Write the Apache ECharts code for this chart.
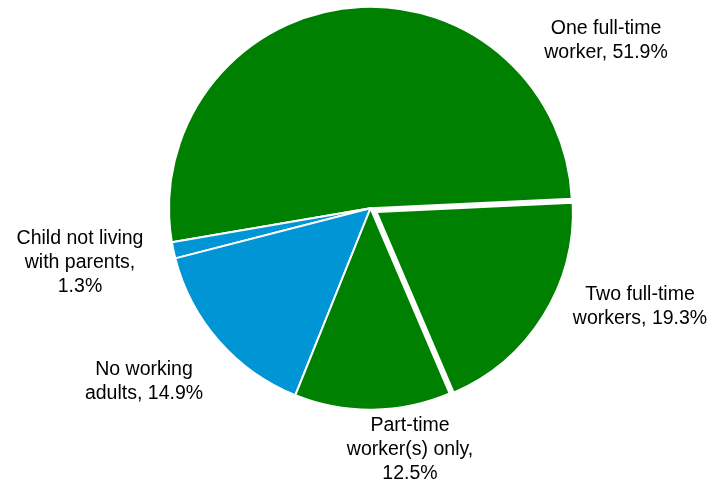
<!DOCTYPE html>
<html>
<head>
<meta charset="utf-8">
<script src="https://cdn.jsdelivr.net/npm/echarts@6/dist/echarts.min.js"></script>
<style>
html,body{margin:0;padding:0;background:#fff;}
#chart{width:714px;height:485px;}
</style>
</head>
<body>
<div id="chart"></div>
<script>
// Data
var categories = ['One full-time worker', 'Child not living with parents', 'No working adults', 'Part-time worker(s) only', 'Two full-time workers'];
var values = [51.9, 1.3, 14.9, 12.5, 19.3];
var labelTexts = [
  'One full-time\nworker, {v}%',
  'Child not living\nwith parents,\n{v}%',
  'No working\nadults, {v}%',
  'Part-time\nworker(s) only,\n{v}%',
  'Two full-time\nworkers, {v}%'
];
var colors = ['#008000', '#0095d5', '#0095d5', '#008000', '#008000'];
var exploded = [false, false, false, false, true];

// Layout
var cx = 370.5, cy = 208.25, R = 201.5, startAngle = 2.7;
var explodeOffset = 7, explodeRadius = 196.5;
var labelPos = [[606, 41], [80, 263], [144, 382], [410, 450], [640, 307]];

var total = values.reduce(function (a, b) { return a + b; }, 0);
// offset of exploded slice along its bisector (counter-clockwise angles)
var explodeIdx = exploded.indexOf(true);
var before = 0;
for (var i = 0; i < explodeIdx; i++) before += values[i];
var mid = (startAngle + (before + values[explodeIdx] / 2) / total * 360) * Math.PI / 180;
var ecx = cx + Math.cos(mid) * explodeOffset;
var ecy = cy - Math.sin(mid) * explodeOffset;

var chart = echarts.init(document.getElementById('chart'), null, {renderer: 'canvas'});

var mainData = categories.map(function (c, i) {
  return {
    name: c,
    value: values[i],
    itemStyle: exploded[i] ? {color: 'rgba(0,0,0,0)', borderWidth: 0} : {color: colors[i]}
  };
});
var explodedData = categories.map(function (c, i) {
  return {
    name: c,
    value: values[i],
    itemStyle: exploded[i] ? {color: colors[i]} : {color: 'rgba(0,0,0,0)', borderWidth: 0}
  };
});

chart.setOption({
  animation: false,
  backgroundColor: '#fff',
  series: [{
    type: 'pie',
    center: [cx, cy],
    radius: R,
    startAngle: startAngle,
    clockwise: false,
    avoidLabelOverlap: false,
    itemStyle: {borderColor: '#fff', borderWidth: 2},
    emphasis: {disabled: true},
    label: {
      show: true,
      position: 'outside',
      fontFamily: 'Liberation Sans, Arial, sans-serif',
      fontSize: 19.5,
      lineHeight: 24,
      color: '#000',
      align: 'center',
      formatter: function (p) {
        return labelTexts[p.dataIndex].replace('{v}', String(p.value));
      }
    },
    labelLine: {show: false},
    labelLayout: function (p) {
      var pos = labelPos[p.dataIndex];
      return {x: pos[0], y: pos[1], align: 'center', verticalAlign: 'middle'};
    },
    data: mainData
  }, {
    type: 'pie',
    silent: true,
    center: [ecx, ecy],
    radius: explodeRadius,
    startAngle: startAngle,
    clockwise: false,
    itemStyle: {borderColor: '#fff', borderWidth: 2},
    emphasis: {disabled: true},
    label: {show: false},
    labelLine: {show: false},
    data: explodedData
  }]
});
</script>
</body>
</html>
